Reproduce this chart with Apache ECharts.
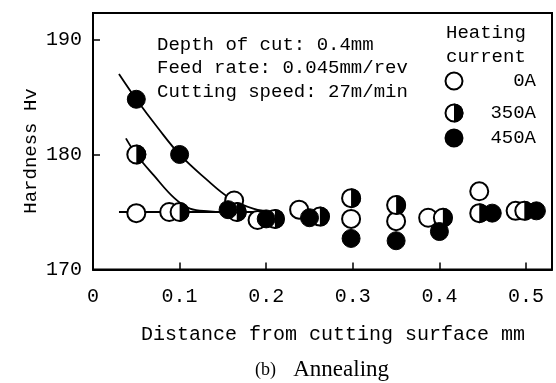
<!DOCTYPE html>
<html>
<head>
<meta charset="utf-8">
<script src="https://cdn.jsdelivr.net/npm/echarts@6/dist/echarts.min.js"></script>
<style>html,body{margin:0;padding:0;background:#fff;}#c{width:556px;height:383px;}</style>
</head>
<body>
<div id="c"></div>
<script>
// ---- data ----
var xTicks = [0, 0.1, 0.2, 0.3, 0.4, 0.5];
var yTicks = [170, 180, 190];

var x0A = [0.05, 0.088, 0.163, 0.19, 0.238, 0.298, 0.35, 0.387, 0.446, 0.488];
var y0A = [174.9, 175.0, 176.0, 174.3, 175.2, 174.4, 174.2, 174.5, 176.8, 175.1];

var x350A = [0.05, 0.1, 0.166, 0.21, 0.262, 0.298, 0.35, 0.404, 0.446, 0.498];
var y350A = [180.0, 175.0, 175.0, 174.4, 174.6, 176.2, 175.6, 174.5, 174.9, 175.1];

var x450A = [0.05, 0.1, 0.156, 0.2, 0.25, 0.298, 0.35, 0.4, 0.461, 0.512];
var y450A = [184.8, 180.0, 175.2, 174.4, 174.5, 172.7, 172.5, 173.3, 174.9, 175.1];

var curve450X = [0.03, 0.05, 0.075, 0.1, 0.13, 0.158, 0.185, 0.21];
var curve450Y = [187.0, 184.8, 182.3, 180.0, 177.9, 176.2, 175.3, 175.0];

var curve350X = [0.038, 0.05, 0.07, 0.094, 0.112, 0.135, 0.15];
var curve350Y = [181.4, 180.0, 178.2, 176.2, 175.3, 175.05, 175.0];

var baseX = [0.03, 0.2];
var baseY = [175.0, 175.0];

var legendLabels = ['0A', '350A', '450A'];
var conditionLines = ['Depth of cut: 0.4mm', 'Feed rate: 0.045mm/rev', 'Cutting speed: 27m/min'];

function pairs(xs, ys) { return xs.map(function (x, i) { return [x, ys[i]]; }); }

var MONO = '"Liberation Mono", "DejaVu Sans Mono", monospace';
var SZ = 18;
var lineStyle = { color: '#000', width: 1.8 };

var chart = echarts.init(document.getElementById('c'), null, { renderer: 'canvas' });

var graphics = [];
conditionLines.forEach(function (t, i) {
  graphics.push({ type: 'text', left: 157, top: 35 + i * 23.5,
    style: { text: t, font: '19px ' + MONO, fill: '#000' } });
});
graphics.push({ type: 'text', left: 446, top: 23, style: { text: 'Heating', font: '19px ' + MONO, fill: '#000' } });
graphics.push({ type: 'text', left: 446, top: 47, style: { text: 'current', font: '19px ' + MONO, fill: '#000' } });
var legY = [81, 113, 138];
legendLabels.forEach(function (t, i) {
  var cx = 454, cy = legY[i], r = 8.5;
  graphics.push({ type: 'circle', shape: { cx: cx, cy: cy, r: r },
    style: { fill: i === 2 ? '#000' : '#fff', stroke: '#000', lineWidth: 2 } });
  if (i === 1) {
    graphics.push({ type: 'sector', shape: { cx: cx, cy: cy, r: r + 1, r0: 0, startAngle: -Math.PI / 2, endAngle: Math.PI / 2 },
      style: { fill: '#000' } });
  }
  graphics.push({ type: 'text', x: 536, y: cy,
    style: { text: t, font: '19px ' + MONO, fill: '#000', align: 'right', verticalAlign: 'middle' } });
});
graphics.push({ type: 'text', x: 31, y: 151, rotation: Math.PI / 2,
  style: { text: 'Hardness Hv', font: '19px ' + MONO, fill: '#000', align: 'center', verticalAlign: 'middle' } });
graphics.push({ type: 'text', x: 333, y: 335,
  style: { text: 'Distance from cutting surface mm', font: '20px ' + MONO, fill: '#000', align: 'center', verticalAlign: 'middle' } });
graphics.push({ type: 'text', x: 322, y: 370,
  style: { rich: { a: { font: '18px "Liberation Serif", serif', fill: '#000' }, b: { font: '23px "Liberation Serif", serif', fill: '#000' } },
    text: '{a|(b)}{b|   Annealing}', align: 'center', verticalAlign: 'middle' } });

var halfPath = 'path://M0,-10 A10,10 0 0,1 0,10 Z';

chart.setOption({
  animation: false,
  backgroundColor: '#fff',
  grid: { left: 93, right: 4, top: 13, bottom: 113.5, show: true, borderColor: '#000', borderWidth: 2, backgroundColor: 'transparent' },
  xAxis: {
    type: 'value', min: 0, max: 0.53, interval: 0.1,
    axisLine: { show: true, onZero: false, lineStyle: { color: '#000', width: 2 } },
    axisTick: { show: true, inside: true, length: 7, lineStyle: { color: '#000', width: 1.5 }, customValues: xTicks },
    axisLabel: { customValues: xTicks, margin: 17, color: '#000', fontFamily: MONO, fontSize: 20,
      formatter: function (v) { return v === 0 ? '0' : v.toFixed(1); } },
    splitLine: { show: false }
  },
  yAxis: {
    type: 'value', min: 170, max: 192.3, interval: 10,
    axisLine: { show: true, onZero: false, lineStyle: { color: '#000', width: 2 } },
    axisTick: { show: true, inside: true, length: 7, lineStyle: { color: '#000', width: 1.5 }, customValues: yTicks },
    axisLabel: { customValues: yTicks, margin: 11, color: '#000', fontFamily: MONO, fontSize: 20 },
    splitLine: { show: false }
  },
  graphic: graphics,
  series: [
    { type: 'line', data: pairs(curve450X, curve450Y), smooth: 0.4, showSymbol: false, symbol: 'none', lineStyle: lineStyle, z: 1 },
    { type: 'line', data: pairs(curve350X, curve350Y), smooth: 0.4, showSymbol: false, symbol: 'none', lineStyle: lineStyle, z: 1 },
    { type: 'line', data: pairs(baseX, baseY), showSymbol: false, symbol: 'none', lineStyle: lineStyle, z: 1 },
    { type: 'scatter', data: pairs(x0A, y0A), symbol: 'circle', symbolSize: SZ,
      itemStyle: { color: '#fff', borderColor: '#000', borderWidth: 2, opacity: 1 }, z: 3 },
    { type: 'scatter', data: pairs(x350A, y350A), symbol: 'circle', symbolSize: SZ,
      itemStyle: { color: '#fff', borderColor: '#000', borderWidth: 2, opacity: 1 }, z: 4 },
    { type: 'scatter', data: pairs(x350A, y350A), symbol: halfPath, symbolSize: [SZ / 2 + 1, SZ + 2], symbolOffset: [(SZ / 2 + 1) / 2, 0],
      itemStyle: { color: '#000', opacity: 1 }, z: 5 },
    { type: 'scatter', data: pairs(x450A, y450A), symbol: 'circle', symbolSize: SZ,
      itemStyle: { color: '#000', borderColor: '#000', borderWidth: 1, opacity: 1 }, z: 6 }
  ]
});
</script>
</body>
</html>
